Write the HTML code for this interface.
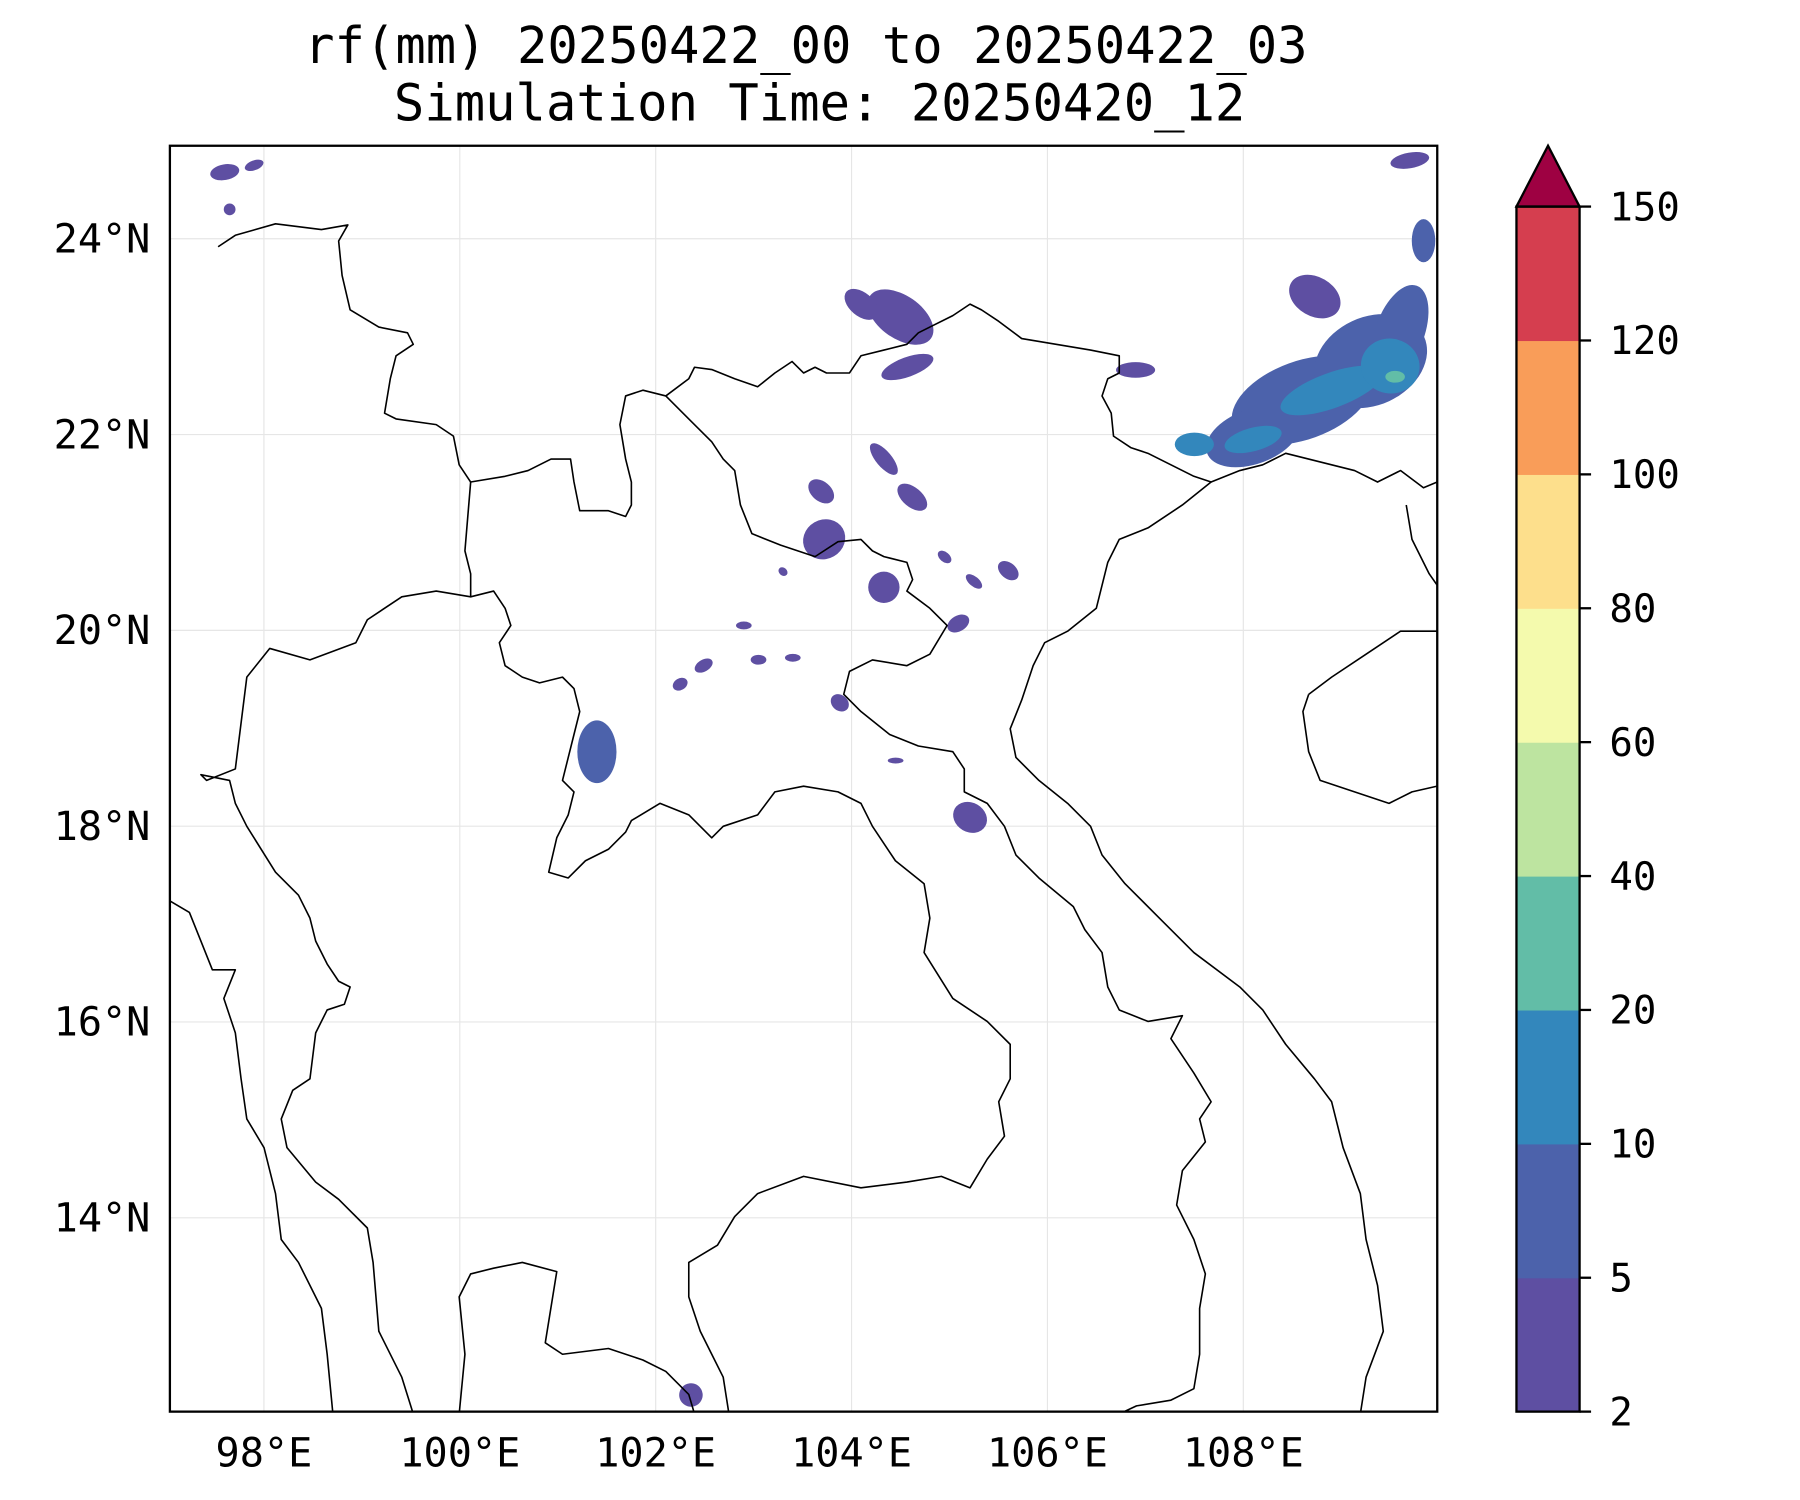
<!DOCTYPE html>
<html><head><meta charset="utf-8"><style>
html,body{margin:0;padding:0;background:#fff;}
svg{display:block;}
text{font-family:"DejaVu Sans Mono","Liberation Mono",monospace;fill:#000;}
</style></head><body>
<svg id="fig" width="1800" height="1500" viewBox="0 0 1568 1307" preserveAspectRatio="none" xmlns="http://www.w3.org/2000/svg">
<text x="702" y="55" font-size="44" text-anchor="middle">rf(mm) 20250422_00 to 20250422_03</text>
<text x="714" y="105" font-size="44" text-anchor="middle">Simulation Time: 20250420_12</text>
<defs><clipPath id="mapclip"><rect x="148" y="127" width="1104" height="1103"/></clipPath></defs>
<g id="grid"></g>
<g id="rain" clip-path="url(#mapclip)"></g>
<g clip-path="url(#mapclip)" fill="none" stroke="#000" stroke-width="1.4" stroke-linejoin="round">
<polyline points="190,215 205,205 240,195 280,200 303,196 295,210 298,240 305,270 330,285 355,290 360,300 345,310 340,330 335,360 345,365 380,370 395,380 400,405 410,420 440,415 460,410 480,400 497,400 500,420 505,445 530,445 545,450 550,440 550,420 545,400 540,370 545,345 560,340 580,345"/>
<polyline points="580,345 600,330 605,320 620,322 640,330 660,337 675,325 690,315 700,325 710,320 720,325 740,325 750,310 770,305 790,300 800,290 810,285 830,275 845,265 855,270 870,280 890,295 920,300 950,305 975,310 975,325 965,330 960,345 968,360 970,380 985,390 1000,395 1020,405 1040,415 1055,420 1080,410 1100,405 1120,395 1140,400 1160,405 1180,410 1200,420 1220,410 1240,425 1252,420"/>
<polyline points="580,345 600,365 620,385 630,400 640,410 645,440 655,465 680,475 710,485 730,472 750,470 760,480 770,485 790,490 795,505 790,515 810,530 825,545 810,570 790,580 760,575 740,585 735,605 750,620 775,640 800,650 830,655 840,670 840,690 860,700 875,720 885,745 905,765 935,790 945,810 960,830 965,860 975,880 1000,890 1030,885 1020,905 1040,935 1055,960 1045,975 1050,995 1030,1020 1025,1050 1040,1080 1050,1110 1045,1140 1045,1180 1040,1210 1020,1220 990,1225 975,1232"/>
<polyline points="410,420 405,480 410,500 410,520 430,515 440,530 445,545 435,560 440,580 455,590 470,595 490,590 500,600 505,620 500,640 495,660 490,680 500,690 495,710 485,730 478,760 495,765 510,750 530,740 545,725 550,715 575,700 600,710 620,730 630,720 660,710 675,690 700,685 730,690 750,700 760,720 780,750 805,770 810,800 805,830 830,870 860,890 880,910 880,940 870,960 875,990 860,1010 845,1035 820,1025 790,1030 750,1035 700,1025 660,1040 640,1060 625,1085 600,1100 600,1130 610,1160 620,1180 630,1200 635,1232"/>
<polyline points="410,520 380,515 350,520 320,540 310,560 270,575 235,565 215,590 210,630 205,670 180,680 175,675 200,680 205,700 215,720 240,760 260,780 270,800 275,820 285,840 295,855 305,860 300,875 285,880 275,900 270,940 255,950 245,975 250,1000 275,1030 295,1045 320,1070 325,1100 330,1160 350,1200 360,1232"/>
<polyline points="148,785 165,795 175,820 185,845 205,845 195,870 205,900 210,940 215,975 230,1000 240,1040 245,1080 260,1100 280,1140 285,1180 290,1232"/>
<polyline points="400,1232 405,1180 400,1130 410,1110 430,1105 455,1100 485,1108 475,1170 490,1180 530,1175 560,1185 580,1195 600,1215 605,1232"/>
<polyline points="1055,420 1030,440 1000,460 975,470 965,490 960,510 955,530 930,550 910,560 900,580 890,610 880,635 885,660 905,680 930,700 950,720 960,745 980,770 1010,800 1040,830 1080,860 1100,880 1120,910 1145,940 1160,960 1170,1000 1185,1040 1190,1080 1200,1120 1205,1160 1190,1200 1185,1232"/>
<polyline points="1140,605 1160,590 1190,570 1220,550 1252,550 1252,685 1230,690 1210,700 1180,690 1150,680 1140,655 1135,620 1140,605"/>
<polyline points="1225,440 1230,470 1245,500 1252,510"/>
</g>
<rect x="148" y="127" width="1104" height="1103" fill="none" stroke="#000" stroke-width="2"/>
<g id="ticks"></g>
<g id="cbar"></g>
</svg>
<script>
const lonTicks=[98,100,102,104,106,108];
const latTicks=[24,22,20,18,16,14];
const cbLevels=[2,5,10,20,40,60,80,100,120,150];
const cbColors=["#5e4fa2","#4c62ab","#3387bc","#62bda7","#bde4a0","#f4faad","#fddf8c","#f99d59","#d53e4f"];
const cbExtendColor="#9e0142";
// rain patches: center lon/lat, half sizes (deg), rotation, rainfall value (mm)
const rainLon=[108.6,109.3,108.1,109.6,109.84,109.7,108.73,106.9,104.5,104.57,104.1,108.9,109.5,108.1,107.5,109.55,103.69,104.33,104.62,103.72,104.33,105.09,105.6,101.4,105.21,103.88,102.49,102.25,103.05,103.4,102.9,103.3,105.25,104.95,104.45,102.36,97.6,97.65,97.9];
const rainLat=[22.35,22.75,21.98,23.05,23.98,24.8,23.41,22.66,23.2,22.69,23.33,22.45,22.7,21.95,21.9,22.59,21.42,21.75,21.36,20.93,20.44,20.07,20.61,18.76,18.09,19.26,19.64,19.45,19.7,19.72,20.05,20.6,20.5,20.75,18.67,12.19,24.68,24.3,24.75];
const rainRx=[0.75,0.6,0.5,0.25,0.12,0.2,0.28,0.2,0.38,0.28,0.2,0.55,0.3,0.3,0.2,0.1,0.15,0.2,0.18,0.2,0.16,0.12,0.12,0.2,0.18,0.1,0.1,0.08,0.08,0.08,0.08,0.05,0.1,0.08,0.08,0.12,0.08,0.06,0.1];
const rainRy=[0.4,0.45,0.28,0.5,0.22,0.08,0.2,0.08,0.22,0.1,0.12,0.18,0.28,0.12,0.12,0.06,0.1,0.08,0.1,0.22,0.16,0.08,0.08,0.32,0.15,0.08,0.06,0.06,0.05,0.04,0.04,0.04,0.05,0.05,0.03,0.12,0.15,0.06,0.05];
const rainRot=[-20,-25,-20,20,0,-10,30,0,35,-20,40,-20,10,-15,0,0,40,50,40,60,45,-30,40,0,30,40,-30,-30,0,0,0,40,40,40,0,60,80,0,-20];
const rainVal=[7,7,7,7,6,4,4,4,4,4,4,15,15,15,15,25,4,4,4,4,4,4,4,6,4,4,4,4,4,4,4,4,4,4,4,4,4,4,4];

const NS="http://www.w3.org/2000/svg";
const X0=148,X1=1252,Y0=127,Y1=1230;
const LON0=97.04,LON1=109.98,LAT0=12.02,LAT1=24.95;
function xS(lon){return X0+(lon-LON0)/(LON1-LON0)*(X1-X0);}
function yS(lat){return Y1-(lat-LAT0)/(LAT1-LAT0)*(Y1-Y0);}
const pxPerDeg=(X1-X0)/(LON1-LON0);
function mk(tag,attrs,parent){const e=document.createElementNS(NS,tag);for(const k in attrs)e.setAttribute(k,attrs[k]);parent.appendChild(e);return e;}
function colorFor(v){for(let i=0;i<cbLevels.length-1;i++){if(v<cbLevels[i+1])return cbColors[i];}return cbExtendColor;}

const grid=document.getElementById('grid');
lonTicks.forEach(t=>{const l=mk('line',{x1:xS(t),x2:xS(t),y1:Y0,y2:Y1,stroke:'#e6e6e6','stroke-width':1},grid);

});
latTicks.forEach(t=>{const l=mk('line',{x1:X0,x2:X1,y1:yS(t),y2:yS(t),stroke:'#e6e6e6','stroke-width':1},grid);

});

const rain=document.getElementById('rain');
rainLon.forEach((lon,i)=>{
  const cx=xS(lon),cy=yS(rainLat[i]);
  const e=mk('ellipse',{cx:cx,cy:cy,rx:rainRx[i]*pxPerDeg,ry:rainRy[i]*pxPerDeg,fill:colorFor(rainVal[i]),transform:`rotate(${rainRot[i]} ${cx} ${cy})`},rain);
  
  
});

const ticks=document.getElementById('ticks');
lonTicks.forEach(t=>{const tx=mk('text',{x:xS(t),y:1278,'font-size':35,'text-anchor':'middle'},ticks);tx.textContent=t+'°E';

});
latTicks.forEach(t=>{const tx=mk('text',{x:131,y:yS(t)+12,'font-size':35,'text-anchor':'end'},ticks);tx.textContent=t+'°N';

});

const cb=document.getElementById('cbar');
const CX0=1321,CX1=1376,CT=180,CB=1230,n=cbLevels.length-1,h=(CB-CT)/n;
cbColors.forEach((c,i)=>{const r=mk('rect',{x:CX0,y:CB-(i+1)*h,width:CX1-CX0,height:h+0.5,fill:c},cb);

});
const ar=mk('polygon',{points:`${CX0},${CT} ${(CX0+CX1)/2},127 ${CX1},${CT}`,fill:cbExtendColor,stroke:'#000','stroke-width':2},cb);


const fr=mk('rect',{x:CX0,y:CT,width:CX1-CX0,height:CB-CT,fill:'none',stroke:'#000','stroke-width':2},cb);


cbLevels.forEach((v,i)=>{const y=CB-i*h;
 const l=mk('line',{x1:CX1,x2:CX1+10,y1:y,y2:y,stroke:'#000','stroke-width':2},cb);
 
 
 const t=mk('text',{x:1402,y:y+12,'font-size':34},cb);t.textContent=v;
 
 });
</script>
</body></html>
